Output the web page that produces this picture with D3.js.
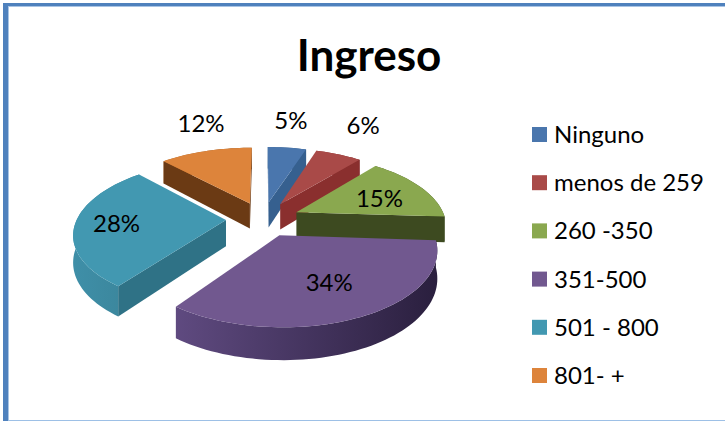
<!DOCTYPE html>
<html><head><meta charset="utf-8">
<script src="https://cdn.jsdelivr.net/npm/d3@7/dist/d3.min.js"></script>
<style>html,body{margin:0;padding:0;background:#fff;overflow:hidden}svg{display:block}text{font-family:Lato,"Open Sans",sans-serif;fill:#000}</style>
</head><body><svg id="c" width="725" height="421"></svg>
<script>
const titleText = "Ingreso";
const categories = ["Ninguno","menos de 259","260 -350","351-500","501 - 800","801- +"];
const values = [5,6,15,34,28,12];
const topColors = ["#4a76ad","#a94a48","#8aa84f","#71588f","#4298b1","#dd843b"];
const wallColors = ["#36608f","#8a2f2e","#3d4a20","#4a3a63","#2f7286","#6b3a14"];
const rimColors = [["#3a6594","#2f5680"],["#8f3432","#7a2a28"],["#4a5a26","#3d4a20"],["#5f4a80","#2a1f3e"],["#3f8fa8","#3a8499"],["#b06a2c","#8a5020"]];
const labelRadii = [1.34,1.30,0.66,0.58,0.62,1.29];
const labelNudge = [[-1,-14],[11,-18],[1,2],[7,3],[-18,0],[5,-17]];
const drawOrder = [5,0,1,2,4,3];

const svg = d3.select("#c");
const cx=263, cy=219, R=149, T=0.47, K=0.17, EX=37, DEPTH=26;

// frame
svg.append("rect").attr("x",8).attr("y",420).attr("width",717).attr("height",1).attr("fill","#9dc0e6");
svg.append("rect").attr("x",8).attr("y",6).attr("width",717).attr("height",1).attr("fill","#a9c4e4");
svg.append("rect").attr("x",8).attr("y",7).attr("width",1).attr("height",413).attr("fill","#a9c4e4");
svg.append("rect").attr("x",3).attr("y",3).attr("width",722).attr("height",3).attr("fill","#4f81bd");
svg.append("rect").attr("x",3).attr("y",3).attr("width",5).attr("height",418).attr("fill","#4f81bd");

const arcs = d3.pie().sort(null).value(d=>d)(values);

function project(wx,wy,z){ // wy>0 = toward viewer
  const s = 1/(1-K*wy/R);
  return [cx+wx*s, cy+(T*wy+z)*s];
}
function pt(a,r,off,z){
  return project(off[0]+r*Math.sin(a), off[1]-r*Math.cos(a), z);
}
const line = d3.line();
const defs = svg.append("defs");
const pieG = svg.append("g");

drawOrder.forEach(i=>{
  const d = arcs[i], mid=(d.startAngle+d.endAngle)/2;
  const off=[EX*Math.sin(mid),-EX*Math.cos(mid)];
  const n=Math.max(6,Math.round((d.endAngle-d.startAngle)*30));
  const angs=d3.range(n+1).map(k=>d.startAngle+(d.endAngle-d.startAngle)*k/n);
  const topRim=angs.map(a=>pt(a,R,off,0));
  const botRim=angs.map(a=>pt(a,R,off,DEPTH));
  const apexT=project(off[0],off[1],0), apexB=project(off[0],off[1],DEPTH);
  const g=pieG.append("g");
  const gid="rim"+i;
  const xs=topRim.map(p=>p[0]);
  const lg=defs.append("linearGradient").attr("id",gid).attr("gradientUnits","userSpaceOnUse")
    .attr("x1",d3.min(xs)).attr("x2",d3.max(xs)).attr("y1",0).attr("y2",0);
  lg.append("stop").attr("offset",0).attr("stop-color",rimColors[i][0]);
  lg.append("stop").attr("offset",1).attr("stop-color",rimColors[i][1]);
  // outer rim
  g.append("path").attr("d",line(topRim.concat(botRim.slice().reverse()))+"Z").attr("fill",`url(#${gid})`);
  // radial walls (only those facing the viewer)
  [[topRim[0],botRim[0],-1],[topRim[n],botRim[n],1]].forEach(([t,b,sgn])=>{
    const q=[apexT,t,b,apexB];
    if(d3.polygonArea(q)*sgn<0){
      g.append("path").attr("d",line(q)+"Z").attr("fill",wallColors[i]);
    }
  });
  g.append("path").attr("d",line([apexT].concat(topRim))+"Z").attr("fill",topColors[i]);
});

// percent labels
const labG=svg.append("g");
arcs.forEach((d,i)=>{
  const mid=(d.startAngle+d.endAngle)/2;
  const off=[EX*Math.sin(mid),-EX*Math.cos(mid)];
  const p=pt(mid,146*labelRadii[i],off,0);
  labG.append("text").attr("x",p[0]+labelNudge[i][0]).attr("y",p[1]+labelNudge[i][1]).attr("text-anchor","middle")
    .attr("dominant-baseline","central").attr("font-size",24).text(d3.format(".0f")(values[i])+"%");
});

// title
svg.append("text").attr("x",369).attr("y",71).attr("text-anchor","middle")
  .attr("font-size",44).attr("font-weight",700).text(titleText);

// legend
const ly=d3.scalePoint().domain(categories).range([134.5,375.5]);
const leg=svg.append("g").selectAll("g").data(categories).join("g")
  .attr("transform",d=>`translate(532,${ly(d)})`);
leg.append("rect").attr("y",-7.5).attr("width",15).attr("height",15).attr("fill",(d,i)=>topColors[i]);
leg.append("text").attr("x",22).attr("y",-1).attr("dominant-baseline","central").attr("font-size",24).text(d=>d);
</script></body></html>
